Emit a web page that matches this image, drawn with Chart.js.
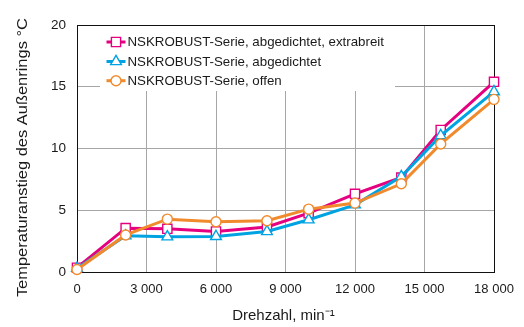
<!DOCTYPE html>
<html>
<head>
<meta charset="utf-8">
<script src="https://cdn.jsdelivr.net/npm/chart.js@4/dist/chart.umd.min.js"></script>
<style>
html,body{margin:0;padding:0;background:#fff;}
#wrap{width:524px;height:327px;}
</style>
</head>
<body>
<div id="wrap"><canvas id="c" width="524" height="327"></canvas></div>
<script>
const speeds = [0, 2100, 3900, 6000, 8200, 10000, 12000, 14000, 15700, 18000];
const extraWide = [0.35, 3.55, 3.5, 3.28, 3.64, 4.77, 6.33, 7.65, 11.5, 15.4];
const sealed = [0.3, 2.93, 2.85, 2.88, 3.28, 4.23, 5.44, 7.73, 11.04, 14.6];
const open = [0.2, 3.0, 4.28, 4.07, 4.15, 5.09, 5.58, 7.14, 10.37, 13.98];
const seriesLabels = ['NSKROBUST-Serie, abgedichtet, extrabreit', 'NSKROBUST-Serie, abgedichtet', 'NSKROBUST-Serie, offen'];
const xTicks = [0, 3000, 6000, 9000, 12000, 15000, 18000];
const xTickLabels = ['0', '3 000', '6 000', '9 000', '12 000', '15 000', '18 000'];
const yTicks = [0, 5, 10, 15, 20];
const xTitle = 'Drehzahl, min\u207B\u00B9';
const yTitle = 'Temperaturanstieg des Au\u00DFenrings \u00B0C';

const FONT = '"Liberation Sans", Arial, Helvetica, sans-serif';
const PINK = '#e5007f', BLUE = '#00a3e2', ORANGE = '#f08a2c';

function pts(ys){ return speeds.map((x,i)=>({x:x, y:ys[i]})); }

const styles = [
  {color:PINK, pointStyle:'rect', r:6.5, order:3},
  {color:BLUE, pointStyle:'triangle', r:6.2, order:2},
  {color:ORANGE, pointStyle:'circle', r:5, order:1}
];
const seriesData = [extraWide, sealed, open];

const datasets = seriesData.map((d,i)=>({
  label: seriesLabels[i],
  data: pts(d),
  borderColor: styles[i].color,
  backgroundColor: '#ffffff',
  borderWidth: 3,
  pointStyle: styles[i].pointStyle,
  pointRadius: styles[i].r,
  pointBorderWidth: 1.4,
  pointBorderColor: styles[i].color,
  pointBackgroundColor: '#ffffff',
  tension: 0,
  clip: false,
  order: styles[i].order
}));

const customPlugin = {
  id: 'custom',
  beforeDatasetsDraw(chart){
    const ctx = chart.ctx;
    const ca = chart.chartArea;
    ctx.save();
    ctx.fillStyle = '#ffffff';
    ctx.fillRect(100, ca.top + 1, 295, 65);
    const rowY = [42, 61.5, 80.7];
    chart.data.datasets.forEach((ds, i) => {
      const y = rowY[i];
      ctx.strokeStyle = ds.borderColor;
      ctx.lineWidth = 3;
      ctx.beginPath();
      ctx.moveTo(106.5, y);
      ctx.lineTo(125.5, y);
      ctx.stroke();
      ctx.fillStyle = '#ffffff';
      ctx.strokeStyle = ds.borderColor;
      ctx.lineWidth = 1.4;
      Chart.helpers.drawPoint(ctx, {pointStyle: ds.pointStyle, radius: ds.pointRadius, rotation: 0, borderWidth: 1.4}, 116, y);
      ctx.fillStyle = '#1a1a1a';
      ctx.font = '13.3px ' + FONT;
      ctx.textAlign = 'left';
      ctx.textBaseline = 'middle';
      ctx.fillText(ds.label, 127.5, y + 0.5);
    });
    ctx.restore();
  },
  afterDraw(chart){
    const ctx = chart.ctx;
    ctx.save();
    ctx.fillStyle = '#1a1a1a';
    ctx.font = '15px ' + FONT;
    const w = ctx.measureText(yTitle).width;
    const sx = 279 / w;
    ctx.translate(26.5, 157.6);
    ctx.rotate(-Math.PI/2);
    ctx.scale(sx, 1);
    ctx.textAlign = 'center';
    ctx.textBaseline = 'alphabetic';
    ctx.fillText(yTitle, 0, 0);
    ctx.restore();
    ctx.save();
    ctx.fillStyle = '#1a1a1a';
    ctx.font = '15px ' + FONT;
    ctx.textAlign = 'center';
    ctx.textBaseline = 'alphabetic';
    ctx.fillText(xTitle, 283.4, 319.5);
    ctx.restore();
  }
};

function edgeColor(ctx, lo, hi){
  const v = ctx.tick ? ctx.tick.value : null;
  return (v === lo || v === hi) ? '#111111' : '#a6a6a6';
}

new Chart(document.getElementById('c'), {
  type: 'line',
  data: { datasets: datasets },
  plugins: [customPlugin],
  options: {
    responsive: false,
    animation: false,
    devicePixelRatio: 1,
    layout: { padding: { top: 25, right: 30, left: 0, bottom: 0 } },
    plugins: { legend: { display: false }, tooltip: { enabled: false } },
    scales: {
      x: {
        type: 'linear',
        min: 0, max: 18000,
        afterFit(s){ s.height = 55; },
        afterBuildTicks(s){ s.ticks = xTicks.map(v=>({value:v})); },
        ticks: {
          padding: 10,
          color: '#1a1a1a',
          font: { family: FONT, size: 13 },
          maxRotation: 0,
          autoSkip: false,
          callback: (v) => { const i = xTicks.indexOf(v); return i >= 0 ? xTickLabels[i] : ''; }
        },
        grid: { drawTicks: false, color: (c)=>edgeColor(c, 0, 18000), lineWidth: 1 },
        border: { display: true, color: '#111111', width: 1 }
      },
      y: {
        min: 0, max: 20,
        afterFit(s){ s.width = 77; },
        afterBuildTicks(s){ s.ticks = yTicks.map(v=>({value:v})); },
        ticks: {
          padding: 11,
          color: '#1a1a1a',
          font: { family: FONT, size: 13.5 },
          callback: (v) => String(v)
        },
        grid: { drawTicks: false, color: (c)=>edgeColor(c, 0, 20), lineWidth: 1 },
        border: { display: true, color: '#111111', width: 1 }
      }
    }
  }
});
</script>
</body>
</html>
